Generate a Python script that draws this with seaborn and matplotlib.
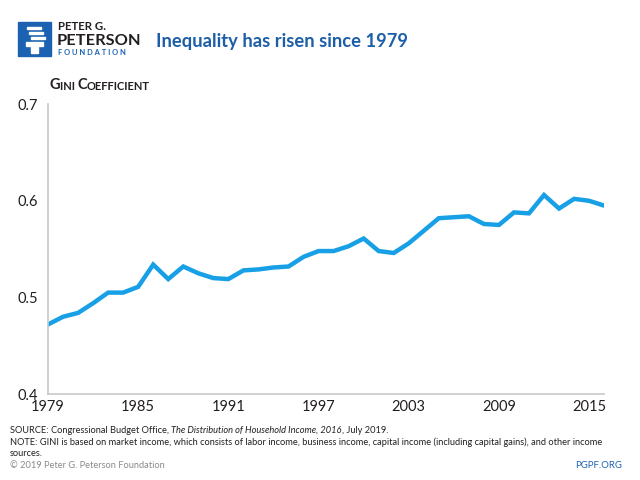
"""
Gini coefficient (market income), 1979-2016, PGPF style chart.
"""
import matplotlib
matplotlib.use("Agg")
import matplotlib.pyplot as plt
import matplotlib.patches as mpatches
import numpy as np
import pandas as pd
import seaborn as sns

# ================= DATA =================
YEARS = list(range(1979, 2017))
GINI = [
    0.472, 0.480, 0.484, 0.494, 0.505, 0.505, 0.511, 0.534, 0.519, 0.532,
    0.525, 0.520, 0.519, 0.528, 0.529, 0.531, 0.532, 0.542, 0.548, 0.548,
    0.553, 0.561, 0.548, 0.546, 0.556, 0.569, 0.582, 0.583, 0.584, 0.576,
    0.575, 0.588, 0.587, 0.606, 0.592, 0.602, 0.600, 0.595,
]
X_TICKS = [1979, 1985, 1991, 1997, 2003, 2009, 2015]
Y_TICKS = [0.4, 0.5, 0.6, 0.7]
# ========================================

LINE_BLUE = "#18a0e6"
TITLE_BLUE = "#1d5ea8"
AXIS_GRAY = "#c8c8c8"
TEXT_DARK = "#231f20"


def fy(px):
    """pixel row from top -> figure fraction"""
    return 1 - px / 480


sns.set_theme(style="white")
plt.rcParams["font.family"] = ["Lato", "DejaVu Sans"]

df = pd.DataFrame({"year": YEARS, "gini": GINI})

fig = plt.figure(figsize=(6.4, 4.8), dpi=100)
ax = fig.add_axes([0.075, 0.179, 0.869, 0.604])

sns.lineplot(data=df, x="year", y="gini", ax=ax, color=LINE_BLUE,
             linewidth=3.2, solid_joinstyle="miter")

ax.set_xlim(1979, 2016)
ax.set_ylim(0.4, 0.7)
ax.set_xticks(X_TICKS)
ax.set_yticks(Y_TICKS)
ax.set_xticklabels([str(t) for t in X_TICKS])
ax.set_yticklabels([f"{t:.1f}" for t in Y_TICKS])
ax.set_xlabel("")
ax.set_ylabel("")

for side in ["top", "right"]:
    ax.spines[side].set_visible(False)
for side in ["left", "bottom"]:
    ax.spines[side].set_color(AXIS_GRAY)
    ax.spines[side].set_linewidth(1.2)

ax.tick_params(axis="both", which="major", direction="out", length=4,
               width=1, color=AXIS_GRAY, labelsize=10.5, labelcolor=TEXT_DARK)
ax.tick_params(axis="x", pad=0)
ax.tick_params(axis="y", pad=3)

# ---- logo ----
fig.patches.append(mpatches.Rectangle((18 / 640, fy(56)), 33 / 640, 34 / 480,
                                      transform=fig.transFigure, color="#1b62b3"))
# simple white torch glyph
fig.patches.append(mpatches.Rectangle((26 / 640, fy(46)), 17 / 640, 4 / 480,
                                      transform=fig.transFigure, color="white"))
fig.patches.append(mpatches.Rectangle((31 / 640, fy(53)), 7 / 640, 7 / 480,
                                      transform=fig.transFigure, color="white"))
for i, yy in enumerate([27, 32, 37]):
    fig.patches.append(mpatches.Rectangle((27 / 640 + i * 2 / 640, fy(yy + 2)),
                                          14 / 640, 2.2 / 480,
                                          transform=fig.transFigure, color="white"))

fig.text(58 / 640, fy(27), "PETER G.", fontsize=8.3, fontweight="bold",
         color=TEXT_DARK, va="center", ha="left")
fig.text(57 / 640, fy(41), "PETERSON", fontsize=11.8, fontweight="bold",
         color=TEXT_DARK, va="center", ha="left")
fig.text(58 / 640, fy(52.5), "F O U N D A T I O N", fontsize=5.4,
         fontweight="bold", color="#1b62b3", va="center", ha="left")

fig.text(156 / 640, fy(41), "Inequality has risen since 1979",
         fontsize=13.2, fontweight="bold", color=TITLE_BLUE, va="center",
         ha="left")

# ---- axis title in small caps ----
t = fig.text(49 / 640, fy(89), "G", fontsize=10.5, fontweight="bold",
             color=TEXT_DARK, va="baseline", ha="left")
prev = t
for txt, size in [("INI ", 8), ("C", 10.5), ("OEFFICIENT", 8)]:
    prev = ax.annotate(txt, xy=(1, 0), xycoords=prev, xytext=(0, 0),
                       textcoords="offset points", fontsize=size,
                       fontweight="bold", color=TEXT_DARK, va="bottom",
                       ha="left", annotation_clip=False)

# ---- footer ----
small = 6.65
s0 = fig.text(10 / 640, fy(433), "SOURCE: Congressional Budget Office, ",
              fontsize=small, color=TEXT_DARK, va="baseline", ha="left")
s1 = ax.annotate("The Distribution of Household Income, 2016", xy=(1, 0),
                 xycoords=s0, xytext=(0, 0), textcoords="offset points",
                 fontsize=small, fontstyle="italic", color=TEXT_DARK,
                 va="bottom", ha="left", annotation_clip=False)
ax.annotate(", July 2019.", xy=(1, 0), xycoords=s1, xytext=(0, 0),
            textcoords="offset points", fontsize=small, color=TEXT_DARK,
            va="bottom", ha="left", annotation_clip=False)
fig.text(10 / 640, fy(445),
         "NOTE: GINI is based on market income, which consists of labor income, "
         "business income, capital income (including capital gains), and other income",
         fontsize=small, color=TEXT_DARK, va="baseline", ha="left")
fig.text(10 / 640, fy(456), "sources.", fontsize=small, color=TEXT_DARK,
         va="baseline", ha="left")
fig.text(10 / 640, fy(468), "\u00a9 2019 Peter G. Peterson Foundation",
         fontsize=small, color="#8a8a8a", va="baseline", ha="left")
fig.text(622 / 640, fy(468), "PGPF.ORG", fontsize=small + 0.3,
         color="#1b62b3", va="baseline", ha="right")

fig.savefig("out.png", dpi=100)
